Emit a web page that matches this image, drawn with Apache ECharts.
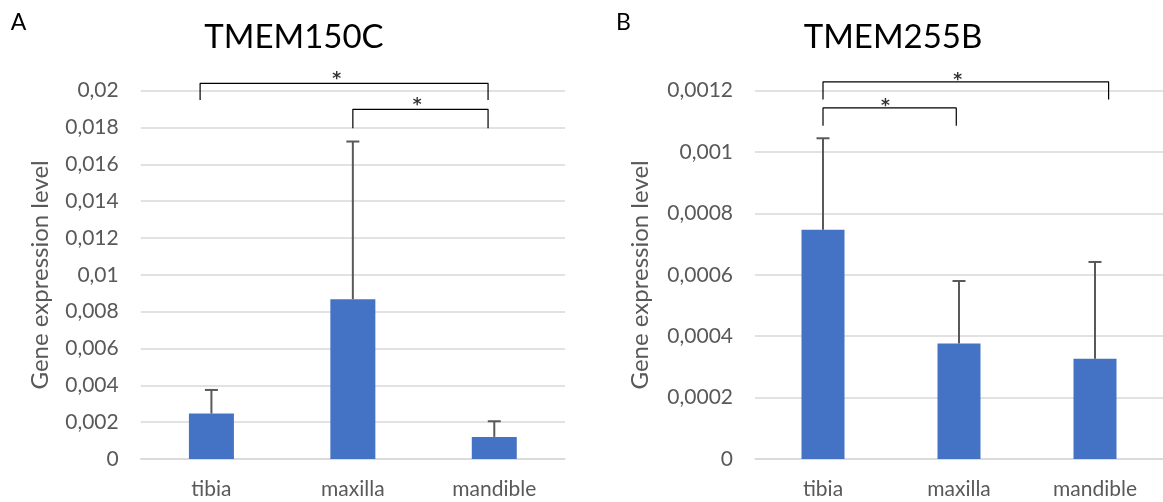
<!DOCTYPE html>
<html>
<head>
<meta charset="utf-8">
<script src="https://cdn.jsdelivr.net/npm/echarts@6/dist/echarts.min.js"></script>
<style>
html,body{margin:0;padding:0;background:#fff;}
#chart{width:1163px;height:502px;}
</style>
</head>
<body>
<div id="chart"></div>
<script>
// ---- data ----
const categories = ['tibia', 'maxilla', 'mandible'];
const tmem150cValues = [0.00247, 0.00868, 0.00120];
const tmem150cErrors = [0.00128, 0.00856, 0.00085];
const tmem255bValues = [0.000747, 0.000376, 0.000327];
const tmem255bErrors = [0.000298, 0.000204, 0.000315];
const yTicksA = ['0', '0,002', '0,004', '0,006', '0,008', '0,01', '0,012', '0,014', '0,016', '0,018', '0,02'];
const yTicksB = ['0', '0,0002', '0,0004', '0,0006', '0,0008', '0,001', '0,0012'];
// significance brackets: [xStart, xEnd, yTop, yBottom] in category-index / value units
const bracketsA = [[-0.08, 1.956, 0.0204, 0.01949], [1.0, 1.956, 0.01899, 0.01796]];
const starsA = [[0.885, 0.0208], [1.455, 0.0194]];
const bracketsB = [[0.0, 2.1, 0.001229, 0.001171], [0.0, 0.98, 0.001144, 0.001086]];
const starsB = [[0.99, 0.001246], [0.46, 0.001161]];

const FONT = 'Lato';
const GRAY = '#595959';
const GRID = '#d9d9d9';
const BLUE = '#4472C4';

function errorSeries(xi, yi, vals, errs) {
  return {
    type: 'custom', xAxisIndex: xi, yAxisIndex: yi, z: 5, silent: true, clip: false,
    data: vals.map((v, i) => [i, v, errs[i]]),
    encode: { x: 0, y: 1 },
    renderItem: function (params, api) {
      const x = api.value(0), v = api.value(1), e = api.value(2);
      const b = api.coord([x, v]);
      const t = api.coord([x, v + e]);
      const hw = 6.5;
      const st = { stroke: GRAY, lineWidth: 2 };
      return {
        type: 'group', children: [
          { type: 'line', shape: { x1: b[0], y1: b[1], x2: t[0], y2: t[1] }, style: st },
          { type: 'line', shape: { x1: t[0] - hw, y1: t[1], x2: t[0] + hw, y2: t[1] }, style: st }
        ]
      };
    }
  };
}
function bracketSeries(xi, yi, br) {
  return br.map(b => ({
    type: 'line', xAxisIndex: xi, yAxisIndex: yi, clip: false, silent: true,
    symbol: 'none', animation: false, z: 6,
    lineStyle: { color: '#000', width: 1.2 },
    data: [[b[0], b[3]], [b[0], b[2]], [b[1], b[2]], [b[1], b[3]]]
  }));
}
function starSeries(xi, yi, st) {
  return {
    type: 'scatter', xAxisIndex: xi, yAxisIndex: yi, clip: false, silent: true,
    symbolSize: 1, itemStyle: { color: 'rgba(0,0,0,0)' }, z: 6, animation: false,
    label: { show: true, position: 'inside', formatter: '*', color: '#000', fontFamily: 'DejaVu Sans', fontSize: 17, fontWeight: 'bold', offset: [0, 4] },
    data: st
  };
}
function catAxis(g) {
  return {
    type: 'category', gridIndex: g, data: categories,
    axisTick: { show: false },
    axisLine: { show: true, lineStyle: { color: GRID, width: 1.5 } },
    axisLabel: { color: GRAY, fontFamily: FONT, fontSize: 21, margin: 20 }
  };
}
function valAxisHidden(g) {
  return { type: 'value', gridIndex: g, min: -0.5, max: 2.5, show: false };
}
function yAxis(g, max, interval, ticks, gap) {
  return {
    type: 'value', gridIndex: g, min: 0, max: max, interval: interval,
    name: 'Gene expression level', nameLocation: 'middle', nameGap: gap,
    nameTextStyle: { color: GRAY, fontFamily: FONT, fontSize: 24 },
    axisLine: { show: false }, axisTick: { show: false },
    axisLabel: { color: GRAY, fontFamily: FONT, fontSize: 21, margin: 22,
      formatter: function (v, i) { return ticks[i]; } },
    splitLine: { lineStyle: { color: GRID, width: 1.5 } }
  };
}

const chart = echarts.init(document.getElementById('chart'), null, { renderer: 'canvas' });
const option = {
  animation: false,
  backgroundColor: '#fff',
  grid: [
    { left: 140.7, top: 90.7, width: 424.3, height: 368.3 },
    { left: 755, top: 90.7, width: 412.5, height: 368.3 }
  ],
  xAxis: [catAxis(0), catAxis(1), valAxisHidden(0), valAxisHidden(1)],
  yAxis: [
    yAxis(0, 0.02, 0.002, yTicksA, 88),
    yAxis(1, 0.0012, 0.0002, yTicksB, 103)
  ],
  graphic: [
    { type: 'text', x: 18.5, y: 22.5, style: { text: 'A', fontFamily: FONT, fontSize: 23, fill: '#000', textAlign: 'center', textVerticalAlign: 'middle' } },
    { type: 'text', x: 623.5, y: 22.5, style: { text: 'B', fontFamily: FONT, fontSize: 23, fill: '#000', textAlign: 'center', textVerticalAlign: 'middle' } },
    { type: 'text', x: 294, y: 37, style: { text: 'TMEM150C', fontFamily: FONT, fontSize: 33, fill: '#000', textAlign: 'center', textVerticalAlign: 'middle' } },
    { type: 'text', x: 893, y: 37, style: { text: 'TMEM255B', fontFamily: FONT, fontSize: 33, fill: '#000', textAlign: 'center', textVerticalAlign: 'middle' } }
  ],
  series: [
    { type: 'bar', xAxisIndex: 0, yAxisIndex: 0, data: tmem150cValues, barWidth: 45, itemStyle: { color: BLUE }, z: 2 },
    { type: 'bar', xAxisIndex: 1, yAxisIndex: 1, data: tmem255bValues, barWidth: 43, itemStyle: { color: BLUE }, z: 2 },
    errorSeries(0, 0, tmem150cValues, tmem150cErrors),
    errorSeries(1, 1, tmem255bValues, tmem255bErrors),
    ...bracketSeries(2, 0, bracketsA),
    ...bracketSeries(3, 1, bracketsB),
    starSeries(2, 0, starsA),
    starSeries(3, 1, starsB)
  ]
};
chart.setOption(option);
</script>
</body>
</html>
